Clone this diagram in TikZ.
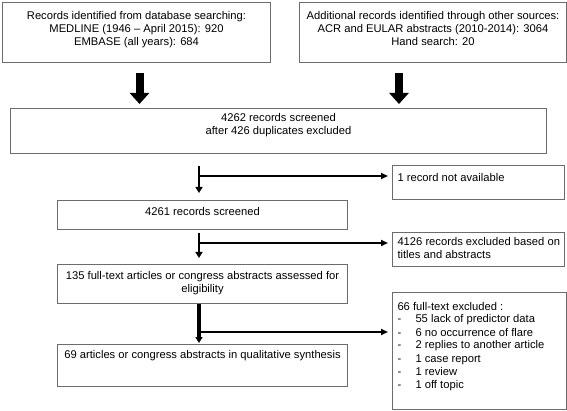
\documentclass[tikz,border=0pt]{standalone}
\usepackage{fontspec}
\setmainfont{Liberation Sans}
\usetikzlibrary{arrows.meta}

% text inside the boxes, kept at the top of the box
\newcommand{\midtext}[4]{\parbox[t][#2][t]{#1}{\centering\rule{0pt}{#3}#4\par}}
\newcommand{\lefttext}[4]{\parbox[t][#2][t]{#1}{\raggedright\leftskip=5pt\rule{0pt}{#3}#4\par}}

\begin{document}
\begin{tikzpicture}[x=1pt,y=-1pt,
  box/.style={draw=gray!85!black,line width=1pt,inner sep=0pt,anchor=north west,font=\fontsize{11.2}{13}\selectfont},
  bigarrow/.style={line width=8pt,-{Triangle[width=19pt,length=11pt]},shorten <=10pt,shorten >=4pt},
  vconn/.style={line width=2.5pt,-{Triangle[width=7pt,length=6pt]}},
  hconn/.style={line width=1.8pt,-{Triangle[width=6pt,length=7pt]},shorten >=4pt}]
\useasboundingbox (0,0) rectangle (567,411);

% sources
\node[box] (srcdb) at (2,2) {\midtext{268pt}{60pt}{17pt}{Records identified from database searching:\\
  MEDLINE (1946 -- April 2015): 920\\ EMBASE (all years): 684}};
\node[box] (srcother) at (299,2) {\midtext{267pt}{60pt}{17pt}{Additional records identified through other sources:\\
  ACR and EULAR abstracts (2010-2014): 3064\\ Hand search: 20}};

% main column
\node[box] (screened) at (10,108) {\midtext{536pt}{45pt}{13pt}{4262 records screened\\ after 426 duplicates excluded}};
\node[box] (nscreened) at (57,200) {\midtext{290pt}{29pt}{15pt}{4261 records screened}};
\node[box] (fulltext) at (57,264) {\midtext{290pt}{39pt}{15pt}{135 full-text articles or congress abstracts assessed for\\ eligibility}};
\node[box] (synth) at (57,344) {\midtext{290pt}{42pt}{14pt}{69 articles or congress abstracts in qualitative synthesis}};

% exclusions
\node[box] (norec) at (392,165) {\lefttext{172pt}{34pt}{16pt}{1 record not available}};
\node[box] (titlesexcl) at (392,232) {\lefttext{172pt}{34pt}{13pt}{4126 records excluded based on\\ titles and abstracts}};
\node[box] (ftexcl) at (392,292) {\lefttext{174pt}{117pt}{17.5pt}{66 full-text excluded :\\
  \makebox[18pt][l]{-}55 lack of predictor data\\
  \makebox[18pt][l]{-}6 no occurrence of flare\\
  \makebox[18pt][l]{-}2 replies to another article\\
  \makebox[18pt][l]{-}1 case report\\
  \makebox[18pt][l]{-}1 review\\
  \makebox[18pt][l]{-}1 off topic}};

\coordinate (j1) at (199,176);
\coordinate (j2) at (199,243);
\coordinate (j3) at (199,332);

\draw[bigarrow] ([xshift=3pt]srcdb.south) -- ([xshift=3pt]srcdb.south |- screened.north);
\draw[bigarrow] ([xshift=-34pt]srcother.south) -- ([xshift=-34pt]srcother.south |- screened.north);

\draw[vconn,shorten <=12pt,shorten >=7pt] (screened.south -| j1) -- (nscreened.north -| j1);
\draw[hconn] (j1) -- (j1 -| norec.west);
\draw[vconn,shorten <=3pt,shorten >=6pt] (nscreened.south -| j2) -- (fulltext.north -| j2);
\draw[hconn] (j2) -- (j2 -| titlesexcl.west);
\draw[vconn,line width=4pt,shorten >=1pt] (fulltext.south -| j3) -- (synth.north -| j3);
\draw[hconn,line width=2.5pt] (j3) -- (j3 -| ftexcl.west);
\end{tikzpicture}
\end{document}
